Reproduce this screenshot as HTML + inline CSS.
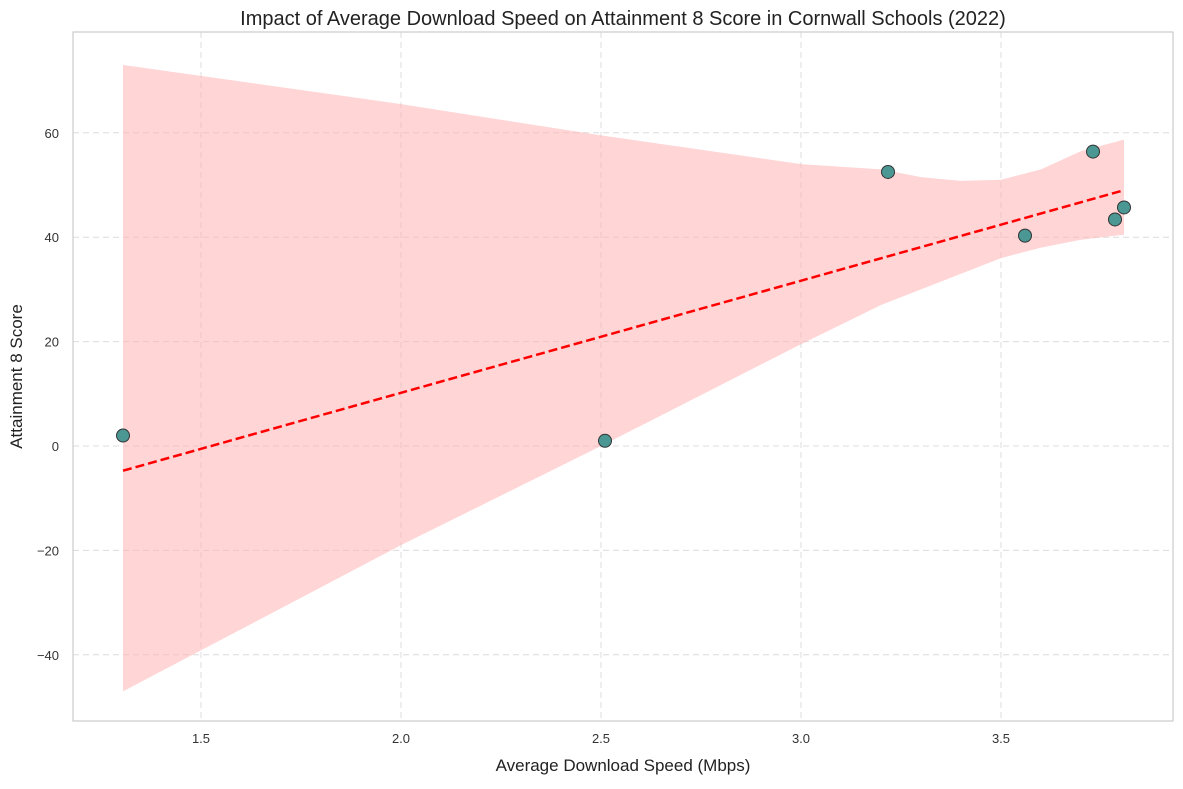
<!DOCTYPE html>
<html><head><meta charset="utf-8"><style>
body{margin:0;background:#fff;font-family:"Liberation Sans",sans-serif;}
svg text{font-family:"Liberation Sans",sans-serif;}
</style></head><body>
<svg id="chart" width="1183" height="784"></svg>
<script>
const speeds=[1.305,2.51,3.2175,3.56,3.73,3.785,3.8075];
const scores=[2,1,52.5,40.3,56.4,43.4,45.7];
const ciX=[1.305,2.0,2.5,3.0,3.2,3.3,3.4,3.5,3.6,3.7,3.8075];
const ciUpper=[73,65.5,59.5,54,53,51.5,50.8,51,53,56.5,58.7];
const ciLower=[-47,-19,0,19.5,27,30,33,36,38,39.5,40.5];
const xTicks=[1.5,2.0,2.5,3.0,3.5];
const yTicks=[-40,-20,0,20,40,60];
const yTickLabels=["\u221240","\u221220","0","20","40","60"];

const L=73,R=1173,T=32,B=721;
const X=v=>201+(v-1.5)*400;
const Y=v=>446-v*5.22;
const svg=document.getElementById('chart');
const NS='http://www.w3.org/2000/svg';
function mk(tag,attrs,parent){const e=document.createElementNS(NS,tag);for(const k in attrs)e.setAttribute(k,attrs[k]);(parent||svg).appendChild(e);return e;}

// grid
xTicks.forEach((t,i)=>{
  const g=mk('line',{x1:X(t),x2:X(t),y1:T,y2:B,stroke:'#dcdcdc','stroke-dasharray':'6,4','stroke-width':1});
  
  
  const tx=mk('text',{x:X(t),y:B+22,'text-anchor':'middle','font-size':13,fill:'#333'});
  tx.textContent=t.toFixed(1);
  
  
});
yTicks.forEach((t,i)=>{
  const g=mk('line',{x1:L,x2:R,y1:Y(t),y2:Y(t),stroke:'#dcdcdc','stroke-dasharray':'6,4','stroke-width':1});
  
  
  const tx=mk('text',{x:L-14,y:Y(t)+5,'text-anchor':'end','font-size':13,fill:'#333'});
  tx.textContent=yTickLabels[i];
  
  
});

// CI band
let pts=ciX.map((x,i)=>X(x)+','+Y(ciUpper[i]));
for(let i=ciX.length-1;i>=0;i--)pts.push(X(ciX[i])+','+Y(ciLower[i]));
const band=mk('polygon',{points:pts.join(' '),fill:'#ffb3b5','fill-opacity':0.55});



// regression
const n=speeds.length;
const mx=speeds.reduce((a,b)=>a+b)/n, my=scores.reduce((a,b)=>a+b)/n;
let sxy=0,sxx=0;
speeds.forEach((x,i)=>{sxy+=(x-mx)*(scores[i]-my);sxx+=(x-mx)**2;});
const slope=sxy/sxx, icpt=my-slope*mx;
const x0=Math.min(...speeds), x1=Math.max(...speeds);
const line=mk('line',{x1:X(x0),y1:Y(icpt+slope*x0),x2:X(x1),y2:Y(icpt+slope*x1),stroke:'#ff0000','stroke-width':2.5,'stroke-dasharray':'9,4'});



// points
speeds.forEach((x,i)=>{
  const c=mk('circle',{cx:X(x),cy:Y(scores[i]),r:6.5,fill:'#4a9794',stroke:'#333','stroke-width':1});
  
  
});

// frame
const fr=mk('rect',{x:L,y:T,width:R-L,height:B-T,fill:'none',stroke:'#cccccc','stroke-width':1.2});



const title=mk('text',{x:(L+R)/2,y:25,'text-anchor':'middle','font-size':20,fill:'#222'});
title.textContent='Impact of Average Download Speed on Attainment 8 Score in Cornwall Schools (2022)';


const xl=mk('text',{x:(L+R)/2,y:771,'text-anchor':'middle','font-size':17,fill:'#222'});
xl.textContent='Average Download Speed (Mbps)';


const yl=mk('text',{x:0,y:0,'text-anchor':'middle','font-size':17,fill:'#222',transform:'translate(22,'+((T+B)/2)+') rotate(-90)'});
yl.textContent='Attainment 8 Score';


</script>
</body></html>
